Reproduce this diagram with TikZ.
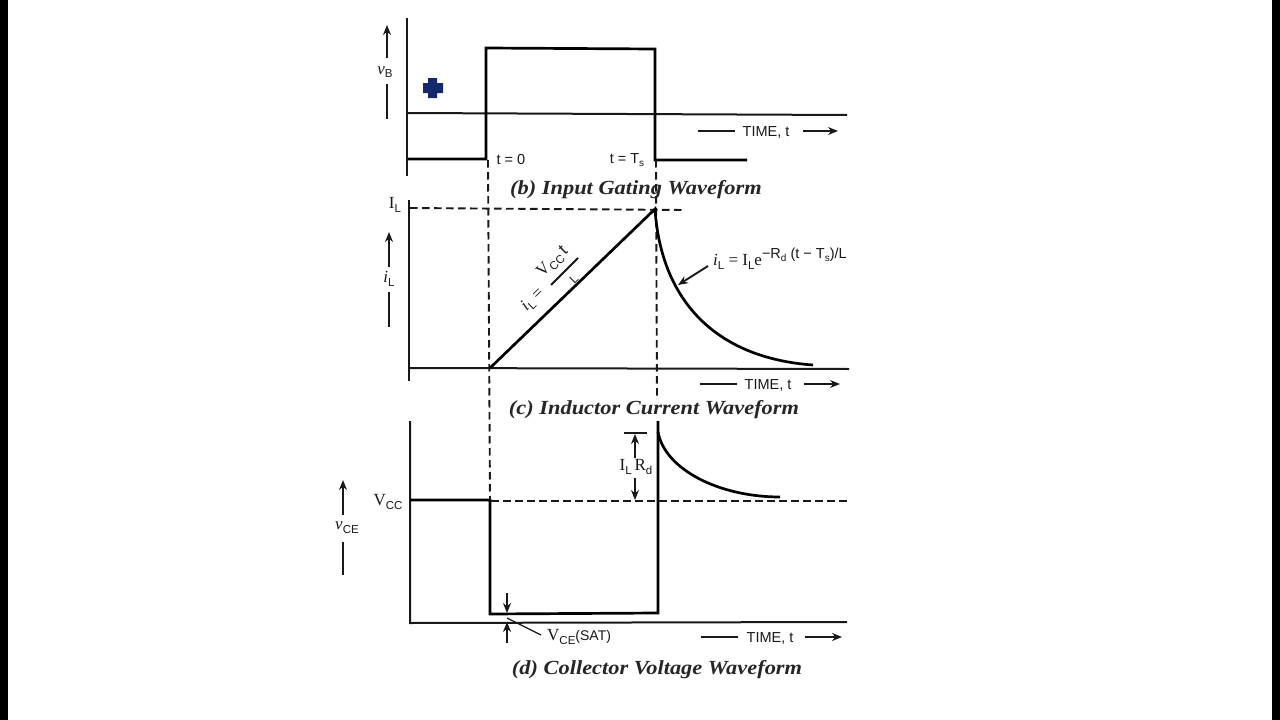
\documentclass[tikz,border=0pt]{standalone}
\usepackage{fontspec}
\setmainfont{Liberation Serif}
\setsansfont{Liberation Sans}
\usetikzlibrary{arrows.meta}
\definecolor{plusblue}{HTML}{14296B}
\newcommand\lowtxt[1]{\raisebox{-0.22em}{\sffamily\fontsize{11.5}{12}\selectfont #1}}
\newcommand\smalllow[1]{\raisebox{-0.2em}{\sffamily\fontsize{10}{11}\selectfont #1}}
\newcommand\captxt[1]{\fontsize{20}{22}\selectfont\bfseries\itshape #1}
\tikzset{
  wave/.style={line width=2.7pt,black},
  axisline/.style={line width=2pt,black!90},
  dashline/.style={line width=1.9pt,black!90,dash pattern=on 7.5pt off 4.5pt},
  tipline/.style={line width=1.9pt,black!90,-{Stealth[length=10pt,width=8pt]}},
  plainline/.style={line width=1.9pt,black!90},
  timetxt/.style={font=\sffamily\fontsize{14.5}{16}\selectfont,inner sep=0pt,text=black!90},
  lab/.style={font=\fontsize{17}{19}\selectfont,inner sep=0pt,text=black!90},
  captn/.style={inner sep=0pt,text=black!85,xscale=1.12}
}
\begin{document}
\begin{tikzpicture}[x=1pt,y=-1pt]
\useasboundingbox (0,0) rectangle (1280,720);
\fill[white] (0,0) rectangle (1280,720);
\fill[black] (0,0) rectangle (8,720);
\fill[black] (1272,0) rectangle (1280,720);
% panel b
\coordinate (ba1) at (407,18); \coordinate (ba2) at (407,176);
\coordinate (bh1) at (408,113); \coordinate (bh2) at (847,115);
\draw[axisline] (ba1)--(ba2);
\draw[axisline] (bh1)--(bh2);
\coordinate (bl1) at (408,159); \coordinate (bl2) at (486,159); \coordinate (bt1) at (486,48);
\coordinate (bt2) at (655,49); \coordinate (bl3) at (655,160); \coordinate (bl4) at (747,160);
\draw[wave] (bl1)--(bl2)--(bt1)--(bt2)--(bl3)--(bl4);
\fill[plusblue] (428,78) -- (437,78) -- (437,83) -- (443,83) -- (443,93) -- (437,93) -- (437,98) -- (428,98) -- (428,93) -- (423,93) -- (423,83) -- (428,83) -- cycle;
\coordinate (vb1) at (387,58); \coordinate (vb2) at (387,25); \coordinate (vb3) at (387,84); \coordinate (vb4) at (387,119);
\draw[tipline] (vb1)--(vb2);
\draw[plainline] (vb3)--(vb4);
\node[lab] (vb) at (385,72) {\textit{v}\lowtxt{B}};
\coordinate (tb1) at (698,131); \coordinate (tb2) at (735,131); \coordinate (tb3) at (803,131); \coordinate (tb4) at (838,131);
\draw[plainline] (tb1)--(tb2); \draw[tipline] (tb3)--(tb4);
\node[timetxt] (tbt) at (766,132) {TIME, t};
\node[timetxt] (t0) at (511,160) {t = 0};
\node[timetxt] (tts) at (627,160) {t = T\smalllow{s}};
\node[captn] (capb) at (636,190) {\captxt{(b) Input Gating Waveform}};
% dashed verticals
\coordinate (d1a) at (488,160); \coordinate (d1b) at (490,500);
\coordinate (d2a) at (656,160); \coordinate (d2b) at (657,398);
\draw[dashline] (d1a)--(d1b);
\draw[dashline] (d2a)--(d2b);
% panel c
\coordinate (ca1) at (409,200); \coordinate (ca2) at (409,381);
\coordinate (ch1) at (409,368); \coordinate (ch2) at (849,369);
\draw[axisline] (ca1)--(ca2); \draw[axisline] (ch1)--(ch2);
\coordinate (il1) at (410,208); \coordinate (il2) at (685,210);
\draw[dashline] (il1)--(il2);
\coordinate (r0) at (490,368); \coordinate (r1) at (655,209); \coordinate (r2) at (813,365);
\draw[wave] (r0)--(r1) .. controls (661,300) and (715,358) .. (r2);
\node[lab] (il) at (395,205) {I\lowtxt{L}};
\coordinate (ic1) at (389,267); \coordinate (ic2) at (389,232); \coordinate (ic3) at (389,292); \coordinate (ic4) at (389,327);
\draw[tipline] (ic1)--(ic2); \draw[plainline] (ic3)--(ic4);
\node[lab] (iclab) at (389,279) {\textit{i}\lowtxt{L}};
\node[lab,rotate=44] (rampi) at (533,300) {\textit{i}\lowtxt{L} =};
\node[lab,rotate=44] (rampv) at (553,262) {V\lowtxt{CC}\,\textsf{t}};
\coordinate (fb1) at (551,285); \coordinate (fb2) at (578,258);
\draw[plainline] (fb1)--(fb2);
\node[lab,rotate=44] (rampl) at (574,279) {\sffamily\fontsize{12}{13}\selectfont L};
\node[lab,anchor=west] (decay) at (713,259) {\textit{i}\lowtxt{L} = I\lowtxt{L}e\raisebox{0.42em}{\sffamily\fontsize{14.5}{15}\selectfont −R\smalllow{d} (t − T\smalllow{s})/L}};
\coordinate (da1) at (708,266); \coordinate (da2) at (678,285);
\draw[tipline] (da1)--(da2);
\coordinate (tc1) at (700,384); \coordinate (tc2) at (737,384); \coordinate (tc3) at (804,384); \coordinate (tc4) at (840,384);
\draw[plainline] (tc1)--(tc2); \draw[tipline] (tc3)--(tc4);
\node[timetxt] (tct) at (768,385) {TIME, t};
\node[captn] (capc) at (654,410) {\captxt{(c) Inductor Current Waveform}};
% panel d
\coordinate (ea1) at (410,421); \coordinate (ea2) at (410,623); \coordinate (eh2) at (847,622);
\draw[axisline] (ea1)--(ea2)--(eh2);
\coordinate (v1) at (410,500); \coordinate (v2) at (490,500); \coordinate (v3) at (490,614);
\coordinate (v4) at (658,613); \coordinate (v5) at (658,421);
\draw[wave] (v1)--(v2)--(v3)--(v4)--(v5);
\coordinate (g1) at (658,432); \coordinate (g2) at (780,497);
\draw[wave] (g1) .. controls (665,470) and (720,497) .. (g2);
\coordinate (vd1) at (491,501); \coordinate (vd2) at (847,501);
\draw[dashline] (vd1)--(vd2);
\coordinate (bar1) at (624,433); \coordinate (bar2) at (647,433);
\draw[plainline] (bar1)--(bar2);
\coordinate (ra1) at (635,458); \coordinate (ra2) at (635,434); \coordinate (ra3) at (635,478); \coordinate (ra4) at (635,500);
\draw[tipline] (ra1)--(ra2); \draw[tipline] (ra3)--(ra4);
\node[lab] (ird) at (636,467) {I\lowtxt{L}\,R\lowtxt{d}};
\coordinate (s1) at (507,593); \coordinate (s2) at (507,613); \coordinate (s3) at (507,643); \coordinate (s4) at (507,622);
\draw[tipline] (s1)--(s2); \draw[tipline] (s3)--(s4);
\coordinate (lead1) at (507,618); \coordinate (lead2) at (541,635);
\draw[plainline,line width=1.3pt] (lead1)--(lead2);
\node[lab,anchor=west] (vsat) at (547,637) {V\lowtxt{CE}\raisebox{0.02em}{\sffamily\fontsize{14}{15}\selectfont (SAT)}};
\node[lab] (vcc) at (388,502) {V\lowtxt{CC}};
\coordinate (ce1) at (343,515); \coordinate (ce2) at (343,480); \coordinate (ce3) at (343,542); \coordinate (ce4) at (343,575);
\draw[tipline] (ce1)--(ce2); \draw[plainline] (ce3)--(ce4);
\node[lab] (celab) at (347,528) {\textit{v}\lowtxt{CE}};
\coordinate (te1) at (701,637); \coordinate (te2) at (738,637); \coordinate (te3) at (805,637); \coordinate (te4) at (842,637);
\draw[plainline] (te1)--(te2); \draw[tipline] (te3)--(te4);
\node[timetxt] (tet) at (770,638) {TIME, t};
\node[captn] (capd) at (657,670) {\captxt{(d) Collector Voltage Waveform}};
\end{tikzpicture}
\end{document}
